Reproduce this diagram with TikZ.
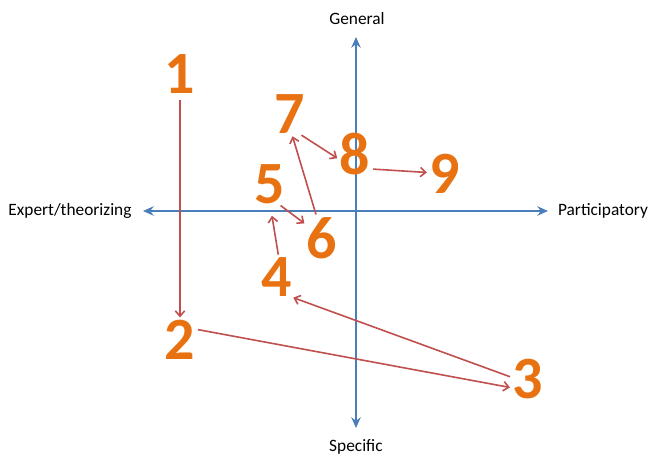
\documentclass[tikz,border=0pt]{standalone}
\usepackage{fontspec}
\setmainfont{Carlito}
\usetikzlibrary{arrows.meta}
\definecolor{axisblue}{RGB}{74,126,187}
\definecolor{arrowred}{RGB}{192,80,77}
\definecolor{numorange}{RGB}{232,114,18}

\begin{document}
\begin{tikzpicture}[
    x=0.75pt, y=-0.75pt,
  axis/.style={axisblue, line width=1.5pt, {Stealth[length=8pt,width=7pt]}-{Stealth[length=8pt,width=7pt]}},
  axislabel/.style={font=\fontsize{13}{15}\selectfont, inner sep=0pt},
  stepnum/.style={text=numorange, font=\fontsize{45}{50}\selectfont\bfseries, inner sep=0pt},
  steparrow/.style={-{Straight Barb[length=4pt,width=7pt]}, arrowred, line width=1.2pt, shorten <=2pt, shorten >=2pt}
]
\useasboundingbox (0,0) rectangle (651,460);

% Axes
\coordinate (xleft) at (143,211);
\coordinate (xright) at (548,211);
\coordinate (ytop) at (356,37);
\coordinate (ybottom) at (356,428);
\draw[axis] (xleft) -- (xright);
\draw[axis] (ytop) -- (ybottom);

\node[axislabel] (expert) at (70,211) {Expert/theorizing};
\node[axislabel] (partic) at (603,211) {Participatory};
\node[axislabel] (general) at (357,19) {General};
\node[axislabel] (specific) at (356,447) {Specific};

% Numbers
\node[stepnum] (n1) at (180,74) {1};
\node[stepnum] (n2) at (180,340) {2};
\node[stepnum] (n3) at (528,379) {3};
\node[stepnum] (n4) at (277,277) {4};
\node[stepnum] (n5) at (270,184) {5};
\node[stepnum] (n6) at (322,238) {6};
\node[stepnum] (n7) at (290,114) {7};
\node[stepnum] (n8) at (355,154) {8};
\node[stepnum] (n9) at (445,174) {9};

% Arrows
\draw[steparrow, shorten <=5pt] (n1.south) -- (n2.north);
\draw[steparrow] (n2.35) -- (n3.210);
\draw[steparrow] (n3.175) -- (n4.-55);
\draw[steparrow, shorten >=9pt] (n4.85) -- (n5.south);
\draw[steparrow] (n5.-67) -- (n6.140);
\draw[steparrow] (n6.104) -- (n7.-85);
\draw[steparrow] (n7.-65) -- (n8.200);
\draw[steparrow] (n8.-44) -- (n9.175);

\end{tikzpicture}
\end{document}
